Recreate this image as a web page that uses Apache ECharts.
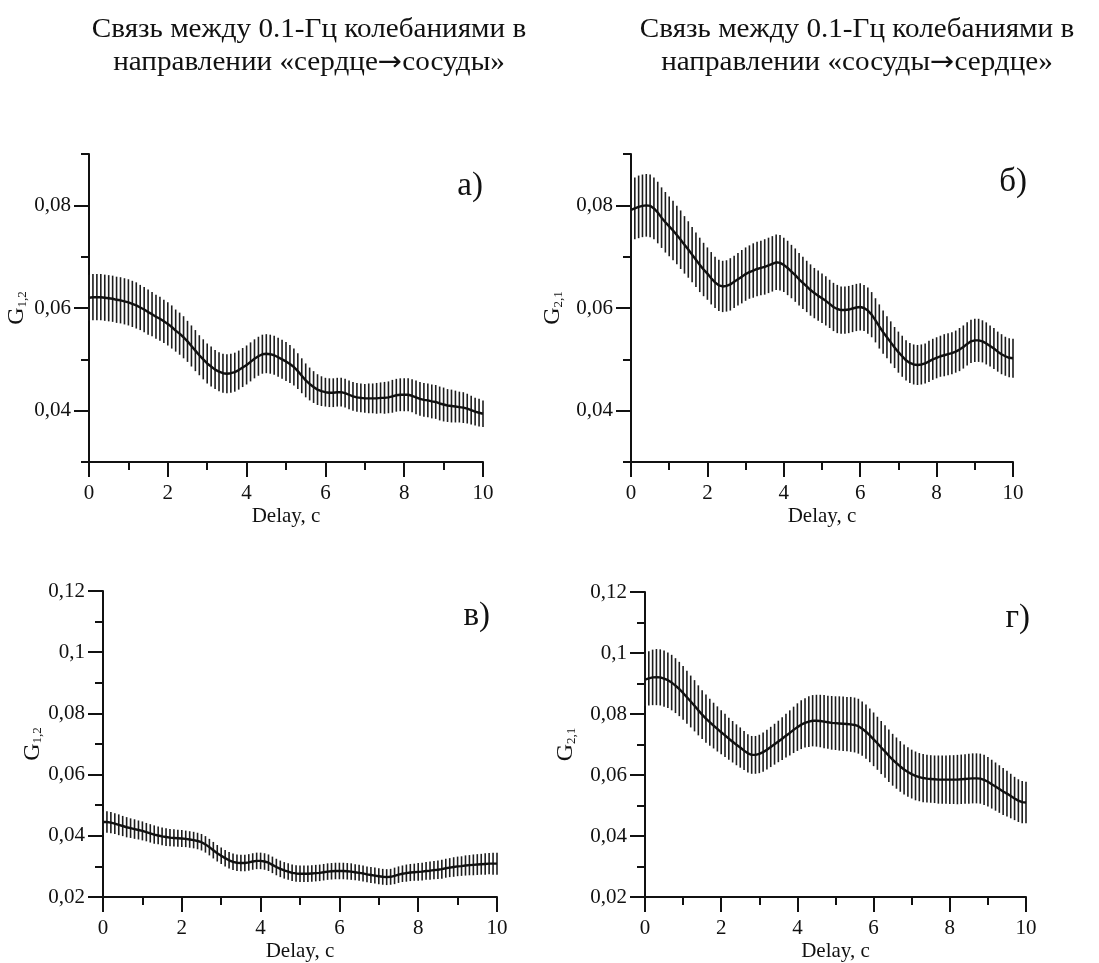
<!DOCTYPE html>
<html>
<head>
<meta charset="utf-8">
<script src="https://cdn.jsdelivr.net/npm/echarts@6/dist/echarts.min.js"></script>
<style>
html,body{margin:0;padding:0;background:#fff;}
#chart{width:1099px;height:963px;}
</style>
</head>
<body>
<div id="chart"></div>
<script>
// ---------------- DATA ----------------
var delays = [0,0.1,0.2,0.3,0.4,0.5,0.6,0.7,0.8,0.9,
1,1.1,1.2,1.3,1.4,1.5,1.6,1.7,1.8,1.9,
2,2.1,2.2,2.3,2.4,2.5,2.6,2.7,2.8,2.9,
3,3.1,3.2,3.3,3.4,3.5,3.6,3.7,3.8,3.9,
4,4.1,4.2,4.3,4.4,4.5,4.6,4.7,4.8,4.9,
5,5.1,5.2,5.3,5.4,5.5,5.6,5.7,5.8,5.9,
6,6.1,6.2,6.3,6.4,6.5,6.6,6.7,6.8,6.9,
7,7.1,7.2,7.3,7.4,7.5,7.6,7.7,7.8,7.9,
8,8.1,8.2,8.3,8.4,8.5,8.6,8.7,8.8,8.9,
9,9.1,9.2,9.3,9.4,9.5,9.6,9.7,9.8,9.9,
10];

// panel а) G1,2 (heart -> vessels)
var meanA = [0.0620,0.0621,0.0621,0.0621,0.0620,0.0619,0.0618,0.0616,0.0615,0.0613,
0.0611,0.0608,0.0605,0.0601,0.0597,0.0592,0.0588,0.0583,0.0579,0.0574,
0.0569,0.0563,0.0556,0.0550,0.0543,0.0535,0.0526,0.0517,0.0508,0.0500,
0.0492,0.0486,0.0480,0.0476,0.0473,0.0472,0.0473,0.0475,0.0479,0.0484,
0.0489,0.0495,0.0501,0.0506,0.0510,0.0511,0.0510,0.0508,0.0504,0.0500,
0.0496,0.0491,0.0485,0.0477,0.0468,0.0459,0.0452,0.0446,0.0441,0.0438,
0.0436,0.0435,0.0435,0.0436,0.0436,0.0434,0.0431,0.0428,0.0426,0.0425,
0.0424,0.0424,0.0424,0.0424,0.0425,0.0425,0.0426,0.0428,0.0430,0.0431,
0.0431,0.0431,0.0429,0.0426,0.0423,0.0421,0.0420,0.0418,0.0417,0.0414,
0.0412,0.0410,0.0409,0.0408,0.0407,0.0406,0.0404,0.0401,0.0398,0.0396,
0.0394];
var errA = [0.0045,0.0045,0.0045,0.0045,0.0045,0.0045,0.0045,0.0045,0.0045,0.0045,
0.0045,0.0045,0.0045,0.0044,0.0044,0.0044,0.0043,0.0043,0.0043,0.0042,
0.0042,0.0042,0.0041,0.0041,0.0041,0.0040,0.0040,0.0040,0.0039,0.0039,
0.0039,0.0039,0.0038,0.0038,0.0038,0.0038,0.0038,0.0038,0.0038,0.0038,
0.0038,0.0038,0.0038,0.0038,0.0038,0.0038,0.0038,0.0038,0.0038,0.0038,
0.0038,0.0037,0.0036,0.0035,0.0034,0.0033,0.0032,0.0031,0.0030,0.0029,
0.0028,0.0028,0.0028,0.0028,0.0028,0.0028,0.0028,0.0028,0.0028,0.0028,
0.0028,0.0029,0.0029,0.0030,0.0030,0.0031,0.0031,0.0032,0.0032,0.0032,
0.0032,0.0032,0.0032,0.0033,0.0033,0.0033,0.0033,0.0033,0.0033,0.0033,
0.0033,0.0032,0.0032,0.0031,0.0030,0.0030,0.0029,0.0028,0.0027,0.0027,
0.0026];

// panel б) G2,1 (vessels -> heart)
var meanB = [0.0791,0.0794,0.0797,0.0799,0.0800,0.0799,0.0794,0.0786,0.0776,0.0767,
0.0759,0.0751,0.0742,0.0733,0.0723,0.0714,0.0704,0.0694,0.0684,0.0675,
0.0667,0.0658,0.0650,0.0644,0.0642,0.0643,0.0646,0.0651,0.0656,0.0661,
0.0666,0.0670,0.0673,0.0676,0.0678,0.0680,0.0683,0.0686,0.0689,0.0688,
0.0684,0.0678,0.0671,0.0664,0.0656,0.0649,0.0642,0.0635,0.0629,0.0624,
0.0619,0.0614,0.0608,0.0602,0.0598,0.0596,0.0596,0.0597,0.0599,0.0601,
0.0602,0.0600,0.0595,0.0587,0.0576,0.0564,0.0553,0.0543,0.0533,0.0523,
0.0514,0.0506,0.0498,0.0493,0.0490,0.0489,0.0490,0.0492,0.0496,0.0500,
0.0503,0.0506,0.0508,0.0510,0.0512,0.0515,0.0519,0.0524,0.0530,0.0535,
0.0537,0.0537,0.0535,0.0531,0.0526,0.0521,0.0515,0.0510,0.0506,0.0503,
0.0502];
var errB = [0.0059,0.0060,0.0061,0.0061,0.0061,0.0061,0.0060,0.0060,0.0059,0.0059,
0.0058,0.0058,0.0057,0.0057,0.0056,0.0055,0.0054,0.0053,0.0053,0.0052,
0.0051,0.0051,0.0050,0.0050,0.0050,0.0050,0.0051,0.0051,0.0051,0.0052,
0.0052,0.0052,0.0053,0.0053,0.0053,0.0054,0.0054,0.0054,0.0054,0.0054,
0.0053,0.0053,0.0052,0.0052,0.0051,0.0051,0.0050,0.0050,0.0049,0.0049,
0.0048,0.0048,0.0047,0.0047,0.0047,0.0046,0.0046,0.0046,0.0046,0.0046,
0.0046,0.0045,0.0045,0.0044,0.0043,0.0043,0.0042,0.0041,0.0041,0.0040,
0.0040,0.0040,0.0039,0.0039,0.0039,0.0039,0.0039,0.0039,0.0040,0.0040,
0.0040,0.0040,0.0041,0.0041,0.0041,0.0041,0.0042,0.0042,0.0042,0.0042,
0.0042,0.0042,0.0041,0.0041,0.0040,0.0040,0.0039,0.0039,0.0038,0.0038,
0.0038];

// panel в) G1,2
var meanC = [0.0445,0.0445,0.0443,0.0440,0.0436,0.0432,0.0428,0.0425,0.0422,0.0419,
0.0416,0.0412,0.0408,0.0404,0.0401,0.0398,0.0396,0.0394,0.0393,0.0392,
0.0391,0.0390,0.0388,0.0386,0.0383,0.0379,0.0372,0.0363,0.0353,0.0343,
0.0335,0.0327,0.0320,0.0315,0.0312,0.0311,0.0311,0.0313,0.0316,0.0318,
0.0318,0.0316,0.0312,0.0305,0.0298,0.0292,0.0287,0.0283,0.0279,0.0277,
0.0276,0.0276,0.0276,0.0277,0.0278,0.0279,0.0281,0.0283,0.0284,0.0285,
0.0285,0.0285,0.0284,0.0283,0.0281,0.0279,0.0277,0.0274,0.0272,0.0270,
0.0268,0.0266,0.0265,0.0266,0.0269,0.0273,0.0276,0.0278,0.0280,0.0281,
0.0282,0.0283,0.0285,0.0286,0.0288,0.0289,0.0291,0.0294,0.0296,0.0298,
0.0300,0.0301,0.0303,0.0304,0.0305,0.0306,0.0307,0.0308,0.0309,0.0309,
0.0309];
var errC = [0.0035,0.0035,0.0035,0.0034,0.0034,0.0033,0.0033,0.0032,0.0032,0.0031,
0.0031,0.0030,0.0030,0.0030,0.0029,0.0029,0.0029,0.0028,0.0028,0.0028,
0.0028,0.0027,0.0027,0.0027,0.0027,0.0027,0.0027,0.0027,0.0027,0.0027,
0.0027,0.0027,0.0027,0.0027,0.0027,0.0027,0.0027,0.0027,0.0027,0.0027,
0.0027,0.0027,0.0027,0.0027,0.0027,0.0027,0.0027,0.0027,0.0027,0.0027,
0.0027,0.0027,0.0027,0.0027,0.0027,0.0027,0.0027,0.0027,0.0027,0.0027,
0.0027,0.0027,0.0027,0.0027,0.0026,0.0026,0.0026,0.0026,0.0026,0.0026,
0.0026,0.0026,0.0026,0.0026,0.0027,0.0027,0.0027,0.0028,0.0028,0.0028,
0.0029,0.0029,0.0029,0.0030,0.0030,0.0030,0.0031,0.0031,0.0031,0.0032,
0.0032,0.0032,0.0033,0.0033,0.0034,0.0034,0.0034,0.0035,0.0035,0.0036,
0.0036];

// panel г) G2,1
var meanD = [0.0913,0.0917,0.0920,0.0921,0.0920,0.0916,0.0911,0.0903,0.0893,0.0882,
0.0869,0.0855,0.0841,0.0827,0.0812,0.0798,0.0785,0.0773,0.0762,0.0751,
0.0740,0.0730,0.0719,0.0709,0.0699,0.0690,0.0680,0.0671,0.0666,0.0666,
0.0669,0.0675,0.0683,0.0692,0.0701,0.0710,0.0719,0.0729,0.0738,0.0748,
0.0757,0.0765,0.0771,0.0775,0.0778,0.0778,0.0777,0.0775,0.0773,0.0771,
0.0770,0.0769,0.0768,0.0767,0.0766,0.0764,0.0760,0.0752,0.0742,0.0730,
0.0717,0.0704,0.0690,0.0677,0.0663,0.0650,0.0639,0.0628,0.0618,0.0610,
0.0603,0.0597,0.0593,0.0590,0.0588,0.0587,0.0586,0.0585,0.0585,0.0585,
0.0585,0.0585,0.0585,0.0586,0.0587,0.0588,0.0589,0.0589,0.0588,0.0584,
0.0578,0.0570,0.0562,0.0554,0.0546,0.0539,0.0531,0.0523,0.0516,0.0511,
0.0510];
var errD = [0.0087,0.0089,0.0091,0.0092,0.0092,0.0092,0.0091,0.0091,0.0090,0.0089,
0.0088,0.0087,0.0085,0.0084,0.0082,0.0080,0.0079,0.0077,0.0075,0.0074,
0.0072,0.0071,0.0069,0.0068,0.0067,0.0066,0.0064,0.0063,0.0062,0.0062,
0.0063,0.0064,0.0065,0.0066,0.0067,0.0068,0.0070,0.0072,0.0074,0.0076,
0.0078,0.0080,0.0081,0.0083,0.0084,0.0085,0.0086,0.0087,0.0087,0.0088,
0.0088,0.0089,0.0089,0.0089,0.0090,0.0090,0.0090,0.0089,0.0089,0.0088,
0.0088,0.0087,0.0087,0.0086,0.0086,0.0085,0.0084,0.0083,0.0082,0.0081,
0.0080,0.0080,0.0079,0.0079,0.0078,0.0078,0.0078,0.0079,0.0079,0.0079,
0.0080,0.0080,0.0081,0.0081,0.0081,0.0082,0.0082,0.0082,0.0082,0.0082,
0.0081,0.0080,0.0079,0.0078,0.0077,0.0075,0.0073,0.0071,0.0070,0.0069,
0.0068];

var xTickLabels = ['0','2','4','6','8','10'];
var yMajorAB = [0.04, 0.06, 0.08];
var yMinorAB = [0.03, 0.05, 0.07, 0.09];
var titleLeft = ['Связь между 0.1-Гц колебаниями в', 'направлении «сердце{a|→}сосуды»'];
var titleRight = ['Связь между 0.1-Гц колебаниями в', 'направлении «сосуды{a|→}сердце»'];
var panelLetters = ['а)', 'б)', 'в)', 'г)'];
var yNames = ['1,2', '2,1', '1,2', '2,1'];
var xName = 'Delay, c';

// ---------------- CHART ----------------
var FONT = '"Liberation Serif", "Times New Roman", serif';
var INK = '#111';
var chart = echarts.init(document.getElementById('chart'), null, {renderer: 'canvas'});

var grids = [
  {left: 89,  top: 154, width: 394, height: 308},
  {left: 631, top: 154, width: 382, height: 308},
  {left: 103, top: 591, width: 394, height: 306},
  {left: 645, top: 592, width: 381, height: 305}
];
var nameGaps = [60, 66, 57, 67];

function fmtY(v) {
  return String(+(+v).toFixed(2)).replace('.', ',');
}

var xAxes = grids.map(function (g, i) {
  return {
    type: 'value', gridIndex: i, min: 0, max: 10, interval: 2,
    name: xName, nameLocation: 'middle', nameGap: 44,
    nameTextStyle: {fontFamily: FONT, fontSize: 21, color: INK},
    axisLine: {show: true, onZero: false, lineStyle: {color: INK, width: 2}},
    axisTick: {show: true, inside: false, length: 15, lineStyle: {color: INK, width: 2}},
    minorTick: {show: true, splitNumber: 2, length: 8, lineStyle: {color: INK, width: 2}},
    axisLabel: {fontFamily: FONT, fontSize: 21, color: INK, margin: 21,
      formatter: function (v) { var s = String(Math.round(v)); return xTickLabels.indexOf(s) >= 0 ? s : ''; }},
    splitLine: {show: false}, minorSplitLine: {show: false}
  };
});

function yName(i) {
  return 'G{s|' + yNames[i] + '}';
}
function nameStyle() {
  return {fontFamily: FONT, fontSize: 24, color: INK,
    rich: {s: {fontFamily: FONT, fontSize: 13, color: INK, verticalAlign: 'bottom', padding: [9, 0, 0, 0]}}};
}

var yAxes = [];
// major axes (panels а, б): custom ticks/labels
[0, 1].forEach(function (i) {
  yAxes.push({
    type: 'value', gridIndex: i, min: 0.03, max: 0.09, interval: 0.01, position: 'left',
    name: yName(i), nameLocation: 'middle', nameGap: nameGaps[i], nameTextStyle: nameStyle(),
    axisLine: {show: true, onZero: false, lineStyle: {color: INK, width: 2}},
    axisTick: {show: true, length: 15, customValues: yMajorAB, lineStyle: {color: INK, width: 2}},
    axisLabel: {fontFamily: FONT, fontSize: 21, color: INK, margin: 18, customValues: yMajorAB, formatter: fmtY},
    splitLine: {show: false}
  });
});
// panels в, г
[2, 3].forEach(function (i) {
  yAxes.push({
    type: 'value', gridIndex: i, min: 0.02, max: 0.12, interval: 0.02, position: 'left',
    name: yName(i), nameLocation: 'middle', nameGap: nameGaps[i], nameTextStyle: nameStyle(),
    axisLine: {show: true, onZero: false, lineStyle: {color: INK, width: 2}},
    axisTick: {show: true, length: 15, lineStyle: {color: INK, width: 2}},
    minorTick: {show: true, splitNumber: 2, length: 8, lineStyle: {color: INK, width: 2}},
    axisLabel: {fontFamily: FONT, fontSize: 21, color: INK, margin: 18, formatter: fmtY},
    splitLine: {show: false}, minorSplitLine: {show: false}
  });
});
// minor tick axes for panels а, б
[0, 1].forEach(function (i) {
  yAxes.push({
    type: 'value', gridIndex: i, min: 0.03, max: 0.09, interval: 0.01, position: 'left', offset: 0,
    axisLine: {show: false},
    axisTick: {show: true, length: 8, customValues: yMinorAB, lineStyle: {color: INK, width: 2}},
    axisLabel: {show: false},
    splitLine: {show: false}
  });
});

var means = [meanA, meanB, meanC, meanD];
var errs = [errA, errB, errC, errD];

function errorBars(i) {
  var data = delays.map(function (x, k) {
    return [x, means[i][k] - errs[i][k], means[i][k] + errs[i][k]];
  });
  return {
    type: 'custom', xAxisIndex: i, yAxisIndex: i, silent: true, z: 2,
    data: data,
    renderItem: function (params, api) {
      var p1 = api.coord([api.value(0), api.value(1)]);
      var p2 = api.coord([api.value(0), api.value(2)]);
      return {type: 'line', shape: {x1: p1[0], y1: p1[1], x2: p2[0], y2: p2[1]},
        style: {stroke: '#1c1c1c', lineWidth: 1.6}};
    }
  };
}
function meanLine(i) {
  return {
    type: 'line', xAxisIndex: i, yAxisIndex: i, z: 3, silent: true,
    showSymbol: false, symbol: 'none', smooth: false,
    lineStyle: {color: INK, width: 2.4},
    data: delays.map(function (x, k) { return [x, means[i][k]]; })
  };
}

var series = [];
for (var i = 0; i < 4; i++) { series.push(errorBars(i)); series.push(meanLine(i)); }

function titleText(x, y, txt) {
  return {type: 'text', x: x, y: y, scaleX: 1.08, silent: true,
    style: {text: txt, fontFamily: FONT, fontSize: 27, fill: INK, align: 'center', verticalAlign: 'middle',
      rich: {a: {fontFamily: '"DejaVu Sans", sans-serif', fontSize: 27, fill: INK}}}};
}
function letterText(x, y, txt) {
  return {type: 'text', x: x, y: y, silent: true,
    style: {text: txt, font: '33px ' + FONT, fill: INK, align: 'right', verticalAlign: 'middle'}};
}

var graphics = [
  titleText(309, 30, titleLeft[0]), titleText(309, 63, titleLeft[1]),
  titleText(857, 30, titleRight[0]), titleText(857, 63, titleRight[1]),
  letterText(483, 186, panelLetters[0]),
  letterText(1027, 182, panelLetters[1]),
  letterText(490, 616, panelLetters[2]),
  letterText(1030, 618, panelLetters[3])
];

chart.setOption({
  backgroundColor: '#fff',
  animation: false,
  grid: grids,
  xAxis: xAxes,
  yAxis: yAxes,
  series: series,
  graphic: graphics
});
</script>
</body>
</html>
